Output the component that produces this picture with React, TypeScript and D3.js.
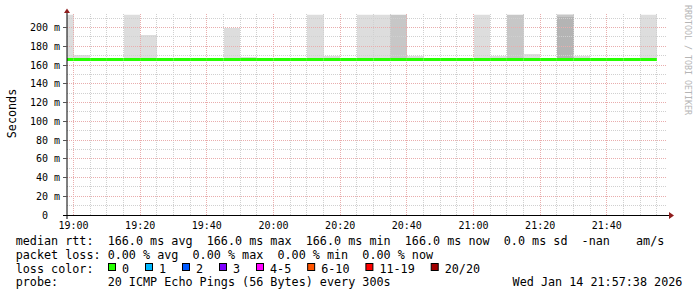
import React from "react";
import * as d3 from "d3";

// ---- data ----
const intervalEnds = [
  "19:00", "19:05", "19:10", "19:15", "19:20", "19:25", "19:30", "19:35", "19:40", "19:45",
  "19:50", "19:55", "20:00", "20:05", "20:10", "20:15", "20:20", "20:25", "20:30", "20:35",
  "20:40", "20:45", "20:50", "20:55", "21:00", "21:05", "21:10", "21:15", "21:20", "21:25",
  "21:30", "21:35", "21:40", "21:45", "21:50", "21:55",
];
const medianRtt = [
  166, 166, 166, 166, 166, 166, 166, 166, 166, 166,
  166, 166, 166, 166, 166, 166, 166, 166, 166, 166,
  166, 166, 166, 166, 166, 166, 166, 166, 166, 166,
  166, 166, 166, 166, 166, 166,
];
const lossPings = [
  0, 0, 0, 0, 0, 0, 0, 0, 0, 0,
  0, 0, 0, 0, 0, 0, 0, 0, 0, 0,
  0, 0, 0, 0, 0, 0, 0, 0, 0, 0,
  0, 0, 0, 0, 0, 0,
];
// highest ping of the smoke (ms), null = no smoke above median
const smokeTop: (number | null)[] = [
  250, 170.7, null, null, 250, 192.3, null, null, null, null,
  200, 168.5, null, null, null, 250, 169.6, null, 250, 250,
  250, 169.3, null, null, null, 250, 169.6, 250, 171.7, null,
  250, 169.6, null, null, null, 250,
];
const smokeShade = [
  "#dddddd", "#dddddd", "#dddddd", "#dddddd", "#dddddd", "#dddddd", "#dddddd", "#dddddd", "#dddddd", "#dddddd",
  "#dddddd", "#dddddd", "#dddddd", "#dddddd", "#dddddd", "#dddddd", "#dddddd", "#dddddd", "#dddddd", "#dddddd",
  "#c7c7c7", "#dddddd", "#dddddd", "#dddddd", "#dddddd", "#dddddd", "#dddddd", "#c7c7c7", "#dddddd", "#dddddd",
  "#b4b4b4", "#dddddd", "#dddddd", "#dddddd", "#dddddd", "#dddddd",
];
// lighter upper band of the smoke (from this ms value upward)
const smokeCapFrom: (number | null)[] = [
  null, null, null, null, null, null, null, null, null, null,
  null, null, null, null, null, null, null, null, null, null,
  null, null, null, null, null, null, null, null, null, null,
  210.9, null, null, null, null, null,
];
const smokeCapShade = "#c7c7c7";

const xTickLabels = ["19:00", "19:20", "19:40", "20:00", "20:20", "20:40", "21:00", "21:20", "21:40"];
const yTickValues = [0, 20, 40, 60, 80, 100, 120, 140, 160, 180, 200];
const yTickLabels = ["0  ", "20 m", "40 m", "60 m", "80 m", "100 m", "120 m", "140 m", "160 m", "180 m", "200 m"];

const lossLegend = ["0", "1", "2", "3", "4-5", "6-10", "11-19", "20/20"];
const lossMaxCount = [0, 1, 2, 3, 5, 10, 19, 20];
const lossColors = ["#26ff00", "#00b8ff", "#0059ff", "#7e00ff", "#ff00ff", "#ff5500", "#ff0000", "#a10000"];

const probeText = "20 ICMP Echo Pings (56 Bytes) every 300s";
const dateText = "Wed Jan 14 21:57:38 2026";

// ---- layout ----
const W = 697;
const H = 297;
const plotLeft = 67;
const plotRight = 667;
const plotTop = 14.7;
const plotBottom = 215;
const yMax = 213.7;
const MONO = "'DejaVu Sans Mono', monospace";
const legendFont = 11.76;
const charW = 7.08;

const toSec = (s: string) => {
  const [h, m] = s.split(":").map(Number);
  return h * 3600 + m * 60;
};
const nb = (s: string) => s.replace(/ /g, "\u00a0");

export default function App() {
  const t0 = toSec("19:00") - 117;
  const x = d3.scaleLinear().domain([t0, t0 + 10800]).range([plotLeft, plotRight]);
  const y = d3.scaleLinear().domain([0, yMax]).range([plotBottom, plotTop]);
  const crisp = (v: number) => Math.floor(v) + 0.5;

  const lossColor = (n: number) => {
    const i = lossMaxCount.findIndex((m) => n <= m);
    return lossColors[i < 0 ? lossColors.length - 1 : i];
  };

  const minorH = d3.range(10, 211, 10).filter((v) => v % 20 !== 0);
  const majorH = d3.range(20, 201, 20);
  const minorV = d3.range(toSec("19:00"), toSec("21:55") + 1, 300).filter((t) => (t - toSec("19:00")) % 1200 !== 0);
  const majorV = xTickLabels.map(toSec);

  const fmt = (v: number) => v.toFixed(1);
  const avg = d3.mean(medianRtt) ?? 0;
  const mx = d3.max(medianRtt) ?? 0;
  const mn = d3.min(medianRtt) ?? 0;
  const now = medianRtt[medianRtt.length - 1];
  const sd = d3.deviation(medianRtt) ?? 0;
  const lossPct = lossPings.map((l) => (l / 20) * 100);
  const fl = (v: number) => v.toFixed(2);
  const line1 = `median rtt:  ${fmt(avg)} ms avg  ${fmt(mx)} ms max  ${fmt(mn)} ms min  ${fmt(now)} ms now  ${fmt(sd)} ms sd  -nan`;
  const line2 = `packet loss: ${fl(d3.mean(lossPct) ?? 0)} % avg  ${fl(d3.max(lossPct) ?? 0)} % max  ${fl(d3.min(lossPct) ?? 0)} % min  ${fl(lossPct[lossPct.length - 1])} % now`;
  const line4 = `probe:       ${probeText}`;

  // legend box positions
  const boxXs: number[] = [];
  let bx = 108;
  lossLegend.forEach((l) => {
    boxXs.push(bx);
    bx += 29.92 + l.length * charW;
  });

  const minorColor = "#d0d0d0";
  const majorColor = "#e9adad";

  return (
    <svg
      width={W}
      height={H}
      style={{ position: "absolute", left: 0, top: 0, background: "#fff", display: "block" }}
    >
      <defs>
        <clipPath id="plotclip">
          <rect x={plotLeft} y={plotTop} width={plotRight - plotLeft} height={plotBottom - plotTop} />
        </clipPath>
      </defs>
      <rect x={0} y={0} width={W} height={H} fill="#fff" />

      {/* smoke */}
      <g clipPath="url(#plotclip)" shapeRendering="crispEdges">
        {intervalEnds.map((e, i) => {
          const top = smokeTop[i];
          if (top == null) return null;
          const te = toSec(e);
          const x0 = x(te - 300);
          const x1 = x(te);
          const yb = y(medianRtt[i]);
          const yt = y(top);
          const cap = smokeCapFrom[i];
          return (
            <g key={e}>
              <rect x={x0} y={yt} width={x1 - x0} height={yb - yt} fill={smokeShade[i]} />
              {cap != null && (
                <rect x={x0} y={yt} width={x1 - x0} height={y(cap) - yt} fill={smokeCapShade} />
              )}
            </g>
          );
        })}
      </g>

      {/* grid */}
      <g strokeDasharray="1,1" strokeWidth={1} shapeRendering="crispEdges">
        {minorH.map((v) => (
          <line key={"mh" + v} x1={plotLeft} x2={plotRight} y1={crisp(y(v))} y2={crisp(y(v))} stroke={minorColor} />
        ))}
        {minorV.map((t) => (
          <line key={"mv" + t} x1={crisp(x(t))} x2={crisp(x(t))} y1={plotTop - 1} y2={plotBottom} stroke={minorColor} />
        ))}
        {majorH.map((v) => (
          <line key={"Mh" + v} x1={plotLeft} x2={plotRight} y1={crisp(y(v))} y2={crisp(y(v))} stroke={majorColor} />
        ))}
        {majorV.map((t) => (
          <line key={"Mv" + t} x1={crisp(x(t))} x2={crisp(x(t))} y1={plotTop - 1} y2={plotBottom} stroke={majorColor} />
        ))}
      </g>

      {/* median line */}
      <g clipPath="url(#plotclip)">
        {intervalEnds.map((e, i) => {
          const te = toSec(e);
          const x0 = Math.max(plotLeft, x(te - 300));
          const x1 = x(te);
          return (
            <line
              key={"m" + e}
              x1={x0}
              x2={x1 + 0.01}
              y1={y(medianRtt[i])}
              y2={y(medianRtt[i])}
              stroke={lossColor(lossPings[i])}
              strokeWidth={3}
            />
          );
        })}
      </g>

      {/* axes */}
      <line x1={67} x2={67} y1={12} y2={219} stroke="#000" strokeWidth={1} />
      <line x1={63} x2={670} y1={215.5} y2={215.5} stroke="#000" strokeWidth={1} />
      {majorH.map((v) => (
        <line key={"yt" + v} x1={63} x2={67} y1={crisp(y(v))} y2={crisp(y(v))} stroke="#555" strokeWidth={1} />
      ))}
      <path d="M64,13 L67,8.5 L70,13 Z" fill="#8f1d1d" />
      <path d="M669,212 L674,215.5 L669,219 Z" fill="#8f1d1d" />

      {/* tick labels */}
      <g fontFamily={MONO} fontSize={10} fill="#000">
        {yTickValues.map((v, i) => (
          <text key={"yl" + v} x={60} y={y(v) + 3.6} textAnchor="end">
            {nb(yTickLabels[i])}
          </text>
        ))}
        {xTickLabels.map((l) => (
          <text key={"xl" + l} x={x(toSec(l))} y={228.5} textAnchor="middle">
            {l}
          </text>
        ))}
      </g>

      {/* axis title */}
      <text
        transform="translate(15.5,113.5) rotate(-90)"
        fontFamily={MONO}
        fontSize={legendFont}
        textAnchor="middle"
        fill="#000"
      >
        Seconds
      </text>

      {/* watermark */}
      <text transform="translate(685,5) rotate(90)" fontFamily={MONO} fontSize={8.3} fill="#b5b5b5">
        {nb("RRDTOOL / TOBI OETIKER")}
      </text>

      {/* legend */}
      <g fontFamily={MONO} fontSize={legendFont} fill="#000">
        <text x={15.7} y={245.2}>{nb(line1)}</text>
        <text x={636} y={245.2}>am/s</text>
        <text x={15.7} y={258.9}>{nb(line2)}</text>
        <text x={15.7} y={272.5}>{nb("loss color:")}</text>
        {lossLegend.map((l, i) => (
          <g key={"lg" + l}>
            <rect x={boxXs[i] + 0.5} y={263.5} width={7} height={7} fill={lossColors[i]} stroke="#000" strokeWidth={1} />
            <text x={boxXs[i] + 14} y={272.5}>{l}</text>
          </g>
        ))}
        <text x={15.7} y={286.2}>{nb(line4)}</text>
        <text x={512.6} y={286.2}>{dateText}</text>
      </g>
    </svg>
  );
}
